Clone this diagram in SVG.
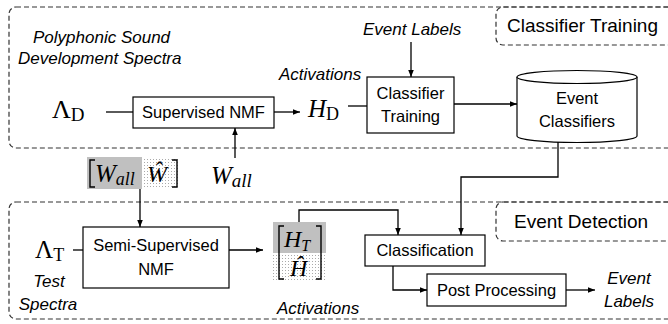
<svg xmlns="http://www.w3.org/2000/svg" width="668" height="324" viewBox="0 0 668 324">
<defs>
<marker id="arr" viewBox="0 0 10 10" refX="10" refY="5" markerWidth="7" markerHeight="7" orient="auto" markerUnits="userSpaceOnUse">
<path d="M0,1 L10,5 L0,9 z" fill="#000"/>
</marker>
<pattern id="dots" width="3" height="3" patternUnits="userSpaceOnUse"><rect width="3" height="3" fill="#fff"/><rect width="1" height="1" fill="#aaa"/></pattern>
</defs>
<style>
.frame{fill:none;stroke:#333;stroke-width:1.2;stroke-dasharray:5 3}
.box{fill:#fff;stroke:#000;stroke-width:1.2}
.t{font-family:"Liberation Sans",Arial,sans-serif;font-size:16.5px;fill:#000;text-anchor:middle}
.i{font-family:"Liberation Sans",Arial,sans-serif;font-size:17px;font-style:italic;fill:#000}
.lbl{font-family:"Liberation Sans",Arial,sans-serif;font-size:19px;fill:#000}
.m{font-family:"Liberation Serif","Times New Roman",serif;fill:#000}
.c{fill:none;stroke:#000;stroke-width:1.3}
.br{fill:none;stroke:#000;stroke-width:1.4}
</style>
<rect width="668" height="324" fill="#fff"/>

<g id="frame-training">
<rect class="frame" x="9" y="7" width="670" height="141" rx="7"/>
<rect class="frame" x="496" y="7" width="180" height="38" rx="7"/>
<text class="lbl" x="507" y="32">Classifier Training</text>
</g>
<g id="frame-detection">
<rect class="frame" x="9" y="202" width="670" height="117" rx="7"/>
<rect class="frame" x="496" y="202" width="180" height="39" rx="7"/>
<text class="lbl" x="514" y="228">Event Detection</text>
</g>

<g id="dev-spectra">
<text class="i" x="33" y="43">Polyphonic Sound</text>
<text class="i" x="18" y="64">Development Spectra</text>
<text class="m" x="52" y="118"><tspan font-size="26">Λ</tspan><tspan font-size="19" dy="3">D</tspan></text>
</g>

<g id="supervised-nmf">
<rect class="box" x="133" y="97" width="141" height="31"/>
<text class="t" x="203.5" y="118">Supervised NMF</text>
</g>

<g id="hd">
<text class="i" x="279" y="80">Activations</text>
<text class="m" x="308" y="117"><tspan font-size="25" font-style="italic">H</tspan><tspan font-size="18" dy="3">D</tspan></text>
</g>

<g id="w-all">
<text class="m" x="211" y="184"><tspan font-size="25" font-style="italic">W</tspan><tspan font-size="19" font-style="italic" dy="3">all</tspan></text>
</g>

<g id="event-labels-in">
<text class="i" x="363" y="35">Event Labels</text>
</g>

<g id="classifier-training">
<rect class="box" x="367" y="77" width="87" height="56"/>
<text class="t" x="410.5" y="99">Classifier</text>
<text class="t" x="410.5" y="122">Training</text>
</g>

<g id="event-classifiers">
<path class="box" d="M517,77 V136 A60,6.5 0 0 0 637,136 V77"/>
<ellipse class="box" cx="577" cy="77" rx="60" ry="6.5"/>
<text class="t" x="577" y="104">Event</text>
<text class="t" x="577" y="127">Classifiers</text>
</g>

<g id="w-matrix">
<rect x="87" y="157" width="55" height="32" fill="#c0c0c0"/>
<rect x="142" y="157" width="38" height="32" fill="url(#dots)"/>
<path class="br" d="M95,160 H90 V187 H95"/>
<path class="br" d="M172,160 H177 V187 H172"/>
<text class="m" x="95" y="182"><tspan font-size="25" font-style="italic">W</tspan><tspan font-size="18" font-style="italic" dy="3">all</tspan></text>
<text class="m" x="147" y="182" font-size="24" font-style="italic">Ŵ</text>
</g>

<g id="test-spectra">
<text class="m" x="35" y="258"><tspan font-size="25">Λ</tspan><tspan font-size="18" dy="3">T</tspan></text>
<text class="i" x="49" y="287" text-anchor="middle">Test</text>
<text class="i" x="48" y="310" text-anchor="middle">Spectra</text>
</g>

<g id="semi-supervised-nmf">
<rect class="box" x="83" y="227" width="146" height="61"/>
<text class="t" x="156" y="251">Semi-Supervised</text>
<text class="t" x="156" y="275">NMF</text>
</g>

<g id="h-matrix">
<rect x="273" y="222" width="53" height="31" fill="#c0c0c0"/>
<rect x="273" y="253" width="53" height="29" fill="url(#dots)"/>
<path class="br" d="M284,226 H279 V279 H284"/>
<path class="br" d="M316,226 H321 V279 H316"/>
<text class="m" x="284" y="247"><tspan font-size="24" font-style="italic">H</tspan><tspan font-size="16" font-style="italic" dy="4">T</tspan></text>
<text class="m" x="290" y="276" font-size="24" font-style="italic">Ĥ</text>
<text class="i" x="277" y="314">Activations</text>
</g>

<g id="classification">
<rect class="box" x="365" y="235" width="120" height="31"/>
<text class="t" x="425" y="256">Classification</text>
</g>

<g id="post-processing">
<rect class="box" x="427" y="274" width="139" height="32"/>
<text class="t" x="496.5" y="296">Post Processing</text>
</g>

<g id="event-labels-out">
<text class="i" x="629" y="284" text-anchor="middle">Event</text>
<text class="i" x="629" y="307" text-anchor="middle">Labels</text>
</g>

<g id="connectors">
<path class="c" d="M106,112 H133"/>
<path class="c" d="M274,112 H300" marker-end="url(#arr)"/>
<path class="c" d="M235,158 V128" marker-end="url(#arr)"/>
<path class="c" d="M348,106 H367"/>
<path class="c" d="M411,42 V77" marker-end="url(#arr)"/>
<path class="c" d="M454,104 H517" marker-end="url(#arr)"/>
<path class="c" d="M558,142 V177 H461 V235" marker-end="url(#arr)"/>
<path class="c" d="M140,189 V227" marker-end="url(#arr)"/>
<path class="c" d="M73,250 H83"/>
<path class="c" d="M229,250 H263" marker-end="url(#arr)"/>
<path class="c" d="M299,222 V210 H398 V235" marker-end="url(#arr)"/>
<path class="c" d="M393,266 V290 H427" marker-end="url(#arr)"/>
<path class="c" d="M566,290 H595" marker-end="url(#arr)"/>
</g>
</svg>
